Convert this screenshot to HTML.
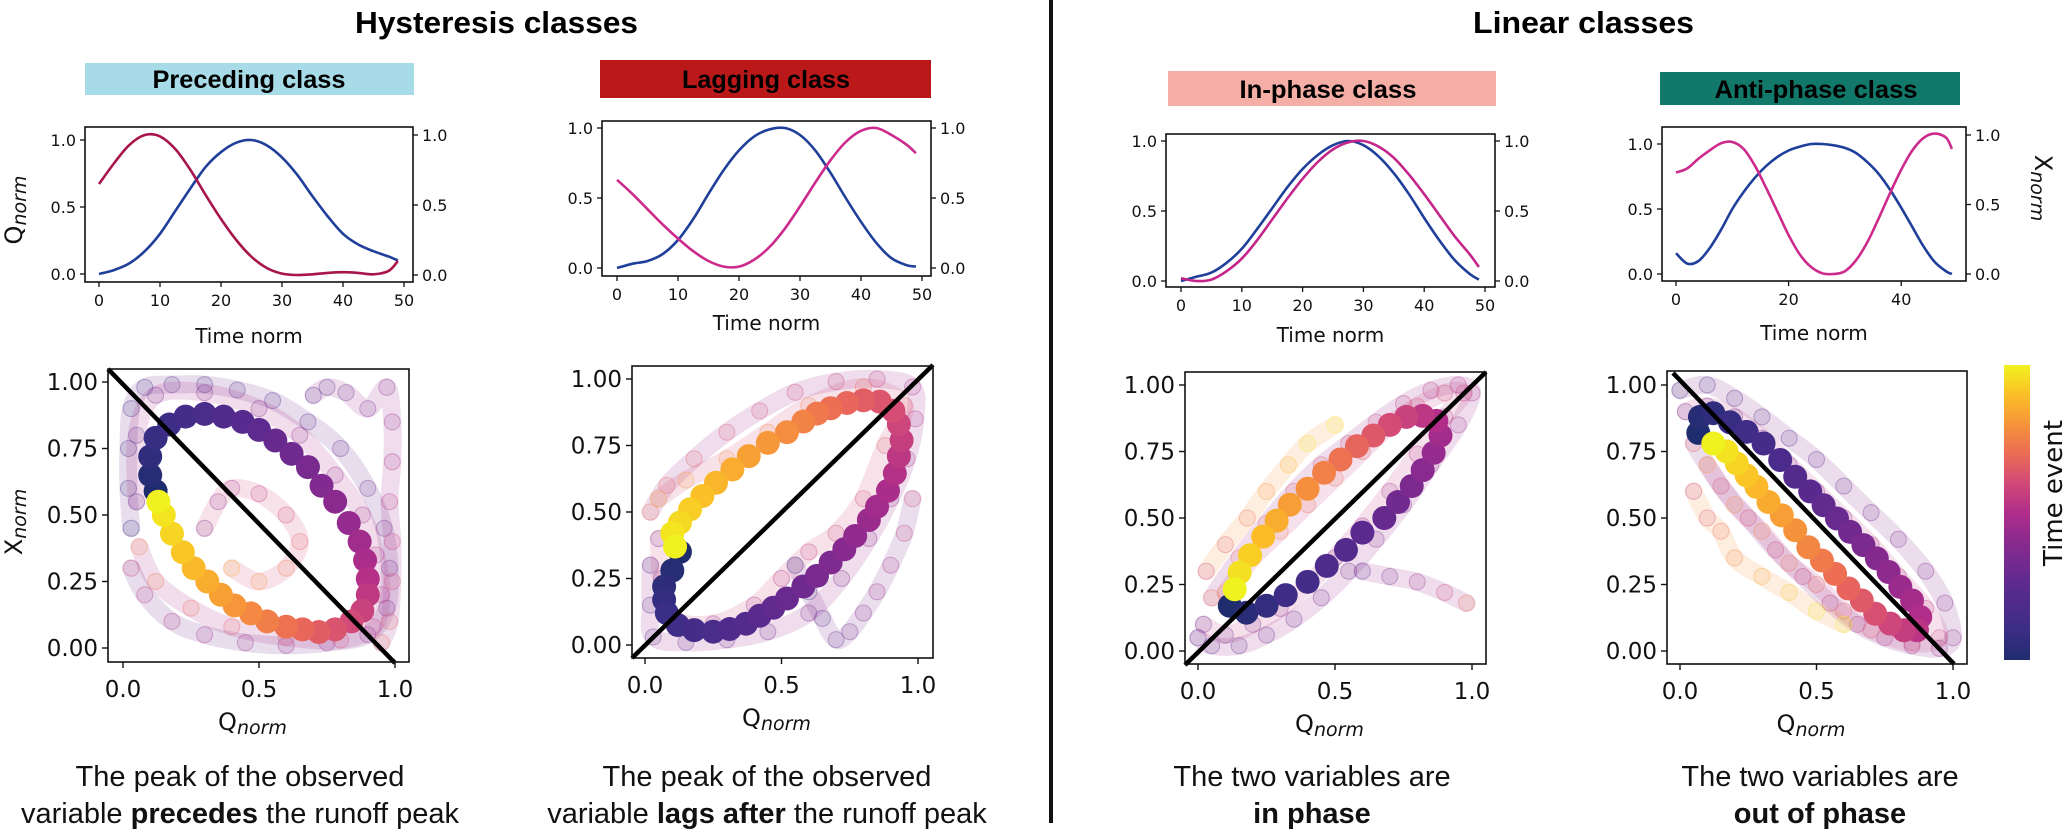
<!DOCTYPE html>
<html><head><meta charset="utf-8"><style>
html,body{margin:0;padding:0;background:#fff}
svg{display:block;font-family:"DejaVu Sans","Liberation Sans",sans-serif}
.tk{font-size:16px;fill:#111}
.tk2{font-size:23px;fill:#111}
.cap{font-family:"Liberation Sans",sans-serif;font-size:29px;fill:#111}
</style></head><body>
<svg id="fig" width="2067" height="830" viewBox="0 0 2067 830" xmlns="http://www.w3.org/2000/svg">
<defs>
<linearGradient id="plasmaV" x1="0" y1="1" x2="0" y2="0">
<stop offset="0" stop-color="#1f2d6e"/><stop offset="0.1" stop-color="#3b2d86"/><stop offset="0.25" stop-color="#5b2a8f"/><stop offset="0.4" stop-color="#8a2a8f"/><stop offset="0.5" stop-color="#b02d8a"/><stop offset="0.6" stop-color="#d24a78"/><stop offset="0.7" stop-color="#ec6c55"/><stop offset="0.8" stop-color="#f6953a"/><stop offset="0.9" stop-color="#fbbf27"/><stop offset="1" stop-color="#f0f21f"/>
</linearGradient>
</defs>
<text x="355" y="33" font-family="Liberation Sans, sans-serif" font-weight="bold" font-size="31" textLength="283" lengthAdjust="spacingAndGlyphs">Hysteresis classes</text>
<text x="1473" y="33" font-family="Liberation Sans, sans-serif" font-weight="bold" font-size="31" textLength="221" lengthAdjust="spacingAndGlyphs">Linear classes</text>
<rect x="1049" y="0" width="4" height="823" fill="#111"/>

<rect x="85" y="63" width="329" height="32" fill="#a8dbe8"/>
<text x="249" y="88" text-anchor="middle" font-family="Liberation Sans, sans-serif" font-weight="bold" font-size="25" textLength="193" lengthAdjust="spacingAndGlyphs">Preceding class</text>
<rect x="600" y="60" width="331" height="38" fill="#bb1919"/>
<text x="766" y="88" text-anchor="middle" font-family="Liberation Sans, sans-serif" font-weight="bold" font-size="25" textLength="168" lengthAdjust="spacingAndGlyphs">Lagging class</text>
<rect x="1168" y="71" width="328" height="35" fill="#f5aea6"/>
<text x="1328" y="98" text-anchor="middle" font-family="Liberation Sans, sans-serif" font-weight="bold" font-size="25" textLength="177" lengthAdjust="spacingAndGlyphs">In-phase class</text>
<rect x="1660" y="72" width="300" height="33" fill="#12786a"/>
<text x="1816" y="98" text-anchor="middle" font-family="Liberation Sans, sans-serif" font-weight="bold" font-size="25" textLength="203" lengthAdjust="spacingAndGlyphs">Anti-phase class</text>

<rect x="2004" y="365" width="26" height="295" fill="url(#plasmaV)"/>
<text transform="translate(2062,493) rotate(-90)" text-anchor="middle" font-size="26" fill="#111">Time event</text>

<g>
<text x="240" y="786" class="cap" text-anchor="middle">The peak of the observed</text>
<text x="240" y="823" class="cap" text-anchor="middle">variable <tspan font-weight="bold">precedes</tspan> the runoff peak</text></g>
<g>
<text x="767" y="786" class="cap" text-anchor="middle">The peak of the observed</text>
<text x="767" y="823" class="cap" text-anchor="middle">variable <tspan font-weight="bold">lags after</tspan> the runoff peak</text></g>
<g>
<text x="1312" y="786" class="cap" text-anchor="middle">The two variables are</text>
<text x="1312" y="823" class="cap" text-anchor="middle" font-weight="bold">in phase</text></g>
<g>
<text x="1820" y="786" class="cap" text-anchor="middle">The two variables are</text>
<text x="1820" y="823" class="cap" text-anchor="middle" font-weight="bold">out of phase</text></g>
<g id="plots"></g>
</svg>
<script>
// ---- time series data (t in normalized time) ----
const tA = [0,2.5,5,7.5,10,12.5,15,17.5,20,22.5,25,27.5,30,32.5,35,37.5,40,42.5,45,47.5,49];
const p1Q = [0,.03,.08,.17,.3,.47,.64,.8,.91,.98,1,.96,.87,.74,.58,.43,.3,.22,.17,.13,.1];
const p1X = [.65,.8,.93,1,.99,.9,.75,.57,.4,.25,.13,.05,.01,0,.005,.015,.02,.015,.005,.03,.1];
const p2Q = [0,.03,.05,.1,.2,.35,.53,.7,.84,.94,.99,1,.95,.84,.68,.5,.33,.18,.07,.02,.01];
const p2X = [.63,.53,.42,.31,.21,.12,.05,.01,.01,.06,.15,.28,.44,.61,.77,.9,.98,1,.95,.88,.82];
const p3Q = [0,.03,.06,.13,.23,.37,.52,.67,.8,.9,.97,1,.97,.89,.77,.62,.45,.29,.15,.05,.01];
const p3X = [.02,0,.01,.07,.16,.29,.44,.59,.73,.85,.94,.99,1,.96,.88,.76,.62,.47,.32,.19,.1];
const tB = [0,2,4,6,8,10,12,14,16,18,20,22,24,26,28,30,32,34,36,38,40,42,44,46,48,49];
const p4Q = [.16,.08,.1,.2,.34,.5,.63,.74,.83,.9,.95,.98,1,1,.99,.97,.93,.86,.77,.65,.51,.36,.21,.09,.02,0];
const p4X = [.73,.76,.83,.89,.94,.95,.9,.78,.62,.45,.28,.14,.05,.005,0,.02,.1,.23,.4,.58,.75,.89,.98,1.01,.98,.9];
const ticksT1 = [0,10,20,30,40,50];
const ticksT2 = [0,20,40];
const ticksV = [0,0.5,1];
const ticksS = [0,0.25,0.5,0.75,1];
const ticksSx = [0,0.5,1];
// ---- scatter main loops (Q,X) ----
const s1Q = [.12,.1,.1,.12,.17,.23,.3,.37,.44,.5,.56,.62,.68,.73,.78,.83,.87,.89,.9,.9,.88,.84,.78,.72,.66,.6,.53,.47,.41,.36,.31,.26,.22,.18,.15,.13];
const s1X = [.59,.65,.72,.79,.84,.87,.88,.87,.85,.82,.78,.73,.68,.61,.55,.47,.4,.33,.26,.2,.14,.1,.07,.06,.07,.08,.1,.13,.16,.2,.25,.3,.36,.43,.5,.55];
const s2Q = [.128,.1,.07,.07,.08,.12,.18,.25,.31,.37,.42,.47,.52,.58,.63,.68,.73,.77,.82,.85,.89,.915,.93,.94,.93,.91,.86,.8,.74,.68,.63,.58,.52,.45,.38,.32,.26,.21,.165,.128,.1,.11];
const s2X = [.35,.28,.22,.17,.12,.075,.056,.05,.06,.08,.11,.14,.175,.22,.26,.31,.36,.41,.47,.52,.58,.645,.71,.77,.83,.88,.915,.92,.91,.89,.87,.84,.8,.76,.71,.66,.61,.56,.51,.46,.42,.37];
const s3Q = [.116,.177,.25,.32,.4,.47,.54,.6,.68,.73,.78,.82,.86,.885,.87,.82,.76,.7,.64,.58,.52,.46,.4,.335,.287,.238,.19,.152,.134];
const s3X = [.17,.144,.17,.21,.26,.32,.38,.445,.5,.56,.62,.68,.745,.81,.865,.884,.88,.85,.81,.77,.72,.67,.61,.55,.49,.43,.36,.295,.232];
const s4Q = [.067,.073,.122,.183,.244,.306,.367,.422,.477,.526,.575,.623,.672,.721,.764,.807,.85,.88,.868,.82,.77,.715,.666,.617,.568,.52,.47,.422,.373,.324,.28,.244,.208,.171,.122];
const s4X = [.82,.88,.894,.86,.824,.78,.718,.655,.6,.548,.498,.448,.398,.348,.297,.241,.19,.128,.078,.078,.103,.14,.19,.235,.29,.34,.39,.454,.51,.56,.617,.66,.705,.75,.78];
// ---- scatter background events (Q,X) ----
const b1aQ=[.03,.02,.02,.03,.08,.18,.3,.42,.55,.68,.8,.9,.96,.98,.97,.9,.75,.6,.45,.3,.18,.08,.03];
const b1aX=[.45,.6,.75,.9,.98,.99,.99,.97,.93,.85,.75,.6,.45,.3,.15,.05,.02,.01,.02,.05,.1,.2,.3];
const b1bQ=[.05,.05,.12,.3,.5,.65,.78,.88,.93,.95,.92,.8,.6,.4,.25,.12,.06];
const b1bX=[.55,.8,.95,.96,.9,.8,.65,.5,.35,.2,.08,.03,.04,.08,.15,.25,.38];
const b1cQ=[.7,.75,.82,.9,.97,.99,.99,.98,.99,.99,.98,.95];
const b1cX=[.95,.98,.96,.9,.98,.85,.7,.55,.4,.25,.1,.02];
const b1dQ=[.3,.35,.4,.5,.6,.65,.6,.5,.4];
const b1dX=[.45,.55,.6,.58,.5,.4,.3,.25,.3];
const b2aQ=[.02,.02,.03,.15,.3,.45,.6,.72,.82,.9,.96,.99,.98,.85,.7,.55,.42,.3,.18,.08,.02];
const b2aX=[.3,.15,.03,.01,.02,.05,.12,.25,.4,.55,.7,.85,.97,1,.99,.95,.88,.8,.7,.6,.5];
const b2bQ=[.05,.06,.1,.25,.4,.5,.6,.7,.8,.88,.95,.8,.6,.45,.3,.15,.05];
const b2bX=[.4,.25,.1,.08,.15,.25,.35,.42,.55,.75,.9,.97,.9,.8,.7,.62,.55];
const b2cQ=[.55,.6,.65,.7,.75,.8,.85,.9,.95,.98];
const b2cX=[.3,.2,.1,.02,.05,.12,.2,.3,.42,.55];
const b3aQ=[0,.05,.15,.25,.35,.45,.55,.65,.75,.85,.95,1,.95,.85,.75,.65,.55,.45,.35,.25,.15,.05];
const b3aX=[.05,.02,.02,.06,.12,.2,.3,.42,.55,.7,.85,.97,1,.98,.93,.86,.78,.7,.6,.48,.35,.2];
const b3bQ=[.02,.1,.2,.3,.4,.5,.6,.7,.8,.9,.97,.9,.8,.7,.6,.5,.4,.3,.2,.1];
const b3bX=[.1,.06,.1,.16,.25,.35,.47,.6,.74,.88,.97,.97,.92,.85,.75,.65,.55,.45,.35,.22];
const b3cQ=[.6,.7,.8,.9,.98];
const b3cX=[.3,.28,.26,.22,.18];
const b3dQ=[.03,.1,.18,.25,.33,.4,.5];
const b3dX=[.3,.4,.5,.6,.7,.78,.85];
const b4aQ=[0,.1,.2,.3,.4,.5,.6,.7,.8,.9,.97,1,.95,.85,.75,.65,.55,.45,.35,.25,.15,.05];
const b4aX=[.98,1,.95,.88,.8,.72,.62,.52,.42,.3,.18,.05,.01,.02,.05,.1,.18,.28,.38,.5,.62,.78];
const b4bQ=[.02,.1,.2,.3,.4,.5,.6,.7,.8,.9,.95,.85,.7,.6,.5,.4,.3,.2,.1];
const b4bX=[.9,.92,.88,.8,.7,.6,.5,.4,.28,.16,.05,.03,.08,.15,.25,.33,.45,.55,.7];
const b4cQ=[.05,.1,.15,.2,.3,.4,.5,.6];
const b4cX=[.6,.5,.45,.35,.28,.22,.15,.1];

const NS='http://www.w3.org/2000/svg';
const root=document.getElementById('plots');
function el(tag,attrs,parent){const e=document.createElementNS(NS,tag);for(const k in attrs)e.setAttribute(k,attrs[k]);(parent||root).appendChild(e);return e;}
const stops=[[0,[31,45,110]],[.1,[59,45,134]],[.25,[91,42,143]],[.4,[138,42,143]],[.5,[176,45,138]],[.6,[210,74,120]],[.7,[236,108,85]],[.8,[246,149,58]],[.9,[251,191,39]],[1,[240,242,31]]];
function cmap(t){for(let i=1;i<stops.length;i++){if(t<=stops[i][0]){const a=stops[i-1],b=stops[i];const f=(t-a[0])/(b[0]-a[0]);return 'rgb('+a[1].map((v,j)=>Math.round(v+(b[1][j]-v)*f)).join(',')+')';}}return 'rgb(240,242,31)';}
function smooth(pts){let d='M'+pts[0][0]+','+pts[0][1];for(let i=0;i<pts.length-1;i++){const p0=pts[Math.max(0,i-1)],p1=pts[i],p2=pts[i+1],p3=pts[Math.min(pts.length-1,i+2)];d+=' C'+(p1[0]+(p2[0]-p0[0])/6)+','+(p1[1]+(p2[1]-p0[1])/6)+' '+(p2[0]-(p3[0]-p1[0])/6)+','+(p2[1]-(p3[1]-p1[1])/6)+' '+p2[0]+','+p2[1];}return d;}
function lin(d0,d1,p0,p1){return v=>p0+(v-d0)*(p1-p0)/(d1-d0);}

function topPlot(c){
  const g=el('g',{});
  
  
  const X=lin(0,50,c.x0,c.x50),YL=lin(0,1,c.yl0,c.yl1),YR=lin(0,1,c.yr0,c.yr1);
  const b=c.box;
  const bl=el('path',{d:smooth(c.t.map((t,i)=>[X(t),YL(c.q[i])])),fill:'none',stroke:'#1f3f9a','stroke-width':2.6},g);
  
  
  const rl=el('path',{d:smooth(c.t.map((t,i)=>[X(t),YR(c.xv[i])])),fill:'none',stroke:c.col,'stroke-width':2.6},g);
  
  
  el('rect',{x:b[0],y:b[1],width:b[2]-b[0],height:b[3]-b[1],fill:'none',stroke:'#111','stroke-width':1.6},g);
  c.xt.forEach(v=>{el('line',{x1:X(v),x2:X(v),y1:b[3],y2:b[3]+5,stroke:'#111','stroke-width':1.3},g);const t=el('text',{x:X(v),y:b[3]+24,'text-anchor':'middle',class:'tk'},g);t.textContent=v;});
  ticksV.forEach(v=>{el('line',{x1:b[0]-5,x2:b[0],y1:YL(v),y2:YL(v),stroke:'#111','stroke-width':1.3},g);let t=el('text',{x:b[0]-9,y:YL(v)+6,'text-anchor':'end',class:'tk'},g);t.textContent=v.toFixed(1);
    el('line',{x1:b[2],x2:b[2]+5,y1:YR(v),y2:YR(v),stroke:'#111','stroke-width':1.3},g);t=el('text',{x:b[2]+9,y:YR(v)+6,class:'tk'},g);t.textContent=v.toFixed(1);});
  const xl=el('text',{x:(b[0]+b[2])/2,y:c.tly,'text-anchor':'middle','font-size':20,fill:'#111'},g);xl.textContent='Time norm';
  
  
}
function scatter(c){
  const g=el('g',{});
  
  
  const X=lin(0,1,c.px0,c.px1),Y=lin(0,1,c.py0,c.py1),b=c.box;
  const cp=el('clipPath',{id:c.name+'-clip'},g);
  el('rect',{x:b[0],y:b[1],width:b[2]-b[0],height:b[3]-b[1]},cp);
  const inner=el('g',{'clip-path':'url(#'+c.name+'-clip)'},g);
  c.bg.forEach((s,k)=>{const n=s[0].length;
    el('path',{d:smooth(s[0].map((q,i)=>[X(q),Y(s[1][i])])),fill:'none',stroke:cmap(c.bgc[k]),'stroke-opacity':0.16,'stroke-width':18,'stroke-linecap':'round'},inner);
    s[0].forEach((q,i)=>{const col=cmap(Math.min(1,Math.max(0,c.bgc[k]+(i/(n-1)-0.5)*0.5)));
      const m=el('circle',{cx:X(q),cy:Y(s[1][i]),r:8,fill:col,'fill-opacity':0.15,stroke:col,'stroke-opacity':0.35,'stroke-width':1},inner);
      
      });});
  const n=c.q.length;
  c.q.forEach((q,i)=>{const m=el('circle',{cx:X(q),cy:Y(c.x[i]),r:12,fill:cmap(i/(n-1))},inner);
    
    });
  const dl=el('line',{x1:c.diag[0],y1:c.diag[1],x2:c.diag[2],y2:c.diag[3],stroke:'#000','stroke-width':4.5},g);
  
  
  el('rect',{x:b[0],y:b[1],width:b[2]-b[0],height:b[3]-b[1],fill:'none',stroke:'#111','stroke-width':1.6},g);
  ticksS.forEach(v=>{el('line',{x1:b[0]-6,x2:b[0],y1:Y(v),y2:Y(v),stroke:'#111','stroke-width':1.4},g);const t=el('text',{x:b[0]-10,y:Y(v)+8,'text-anchor':'end',class:'tk2'},g);t.textContent=v.toFixed(2);});
  ticksSx.forEach(v=>{el('line',{x1:X(v),x2:X(v),y1:b[3],y2:b[3]+6,stroke:'#111','stroke-width':1.4},g);const t=el('text',{x:X(v),y:b[3]+35,'text-anchor':'middle',class:'tk2'},g);t.textContent=v.toFixed(1);});
  const ql=el('text',{x:(b[0]+b[2])/2-6,y:b[3]+68,'text-anchor':'middle','font-size':24,fill:'#111'},g);
  
  
  ql.innerHTML='Q<tspan font-size="19" font-style="italic" dy="4">norm</tspan>';
}
topPlot({name:'preceding-timeseries',box:[85,127,413,282],x0:99,x50:404,yl0:274,yl1:140,yr0:275,yr1:135,t:tA,q:p1Q,xv:p1X,col:'#a8154c',xt:ticksT1,tly:343});
topPlot({name:'lagging-timeseries',box:[602,121,931,276],x0:617,x50:922,yl0:268,yl1:128,yr0:268,yr1:128,t:tA,q:p2Q,xv:p2X,col:'#cc2a8c',xt:ticksT1,tly:330});
topPlot({name:'in-phase-timeseries',box:[1166,134,1495,287],x0:1181,x50:1485,yl0:281,yl1:141,yr0:281,yr1:141,t:tA,q:p3Q,xv:p3X,col:'#c4258a',xt:ticksT1,tly:342});
topPlot({name:'anti-phase-timeseries',box:[1662,127,1966,281],x0:1676,x50:1957.5,yl0:274,yl1:144,yr0:274,yr1:135,t:tB,q:p4Q,xv:p4X,col:'#cc2a8c',xt:ticksT2,tly:340});
scatter({name:'preceding-scatter',box:[108,369,409,662],px0:123,px1:395,py0:648,py1:382,q:s1Q,x:s1X,bg:[[b1aQ,b1aX],[b1bQ,b1bX],[b1cQ,b1cX],[b1dQ,b1dX]],bgc:[.3,.5,.45,.6],diag:[108,369,395,663]});
scatter({name:'lagging-scatter',box:[632,366,933,658],px0:645,px1:918,py0:645,py1:379,q:s2Q,x:s2X,bg:[[b2aQ,b2aX],[b2bQ,b2bX],[b2cQ,b2cX]],bgc:[.45,.6,.35],diag:[632,658,933,365]});
scatter({name:'in-phase-scatter',box:[1185,372,1486,664],px0:1198,px1:1472,py0:651,py1:385,q:s3Q,x:s3X,bg:[[b3aQ,b3aX],[b3bQ,b3bX],[b3cQ,b3cX],[b3dQ,b3dX]],bgc:[.45,.55,.45,.8],diag:[1185,665,1486,372]});
scatter({name:'anti-phase-scatter',box:[1667,371,1967,664],px0:1680,px1:1953,py0:651,py1:385,q:s4Q,x:s4X,bg:[[b4aQ,b4aX],[b4bQ,b4bX],[b4cQ,b4cX]],bgc:[.4,.55,.8],diag:[1673,373,1954,664]});
function ylab(name,x,y,rot,main,sub){const t=el('text',{transform:'translate('+x+','+y+') rotate('+rot+')','text-anchor':'middle','font-size':24,fill:'#111'});
  
  
  t.innerHTML=main+'<tspan font-size="19" font-style="italic" dy="4">'+sub+'</tspan>';}
ylab('q-norm-axis-title',22,210,-90,'Q','norm');
ylab('x-norm-axis-title',22,522,-90,'X','norm');
ylab('x-norm-right-axis-title',2035,188,90,'X','norm');
</script>
</body></html>
